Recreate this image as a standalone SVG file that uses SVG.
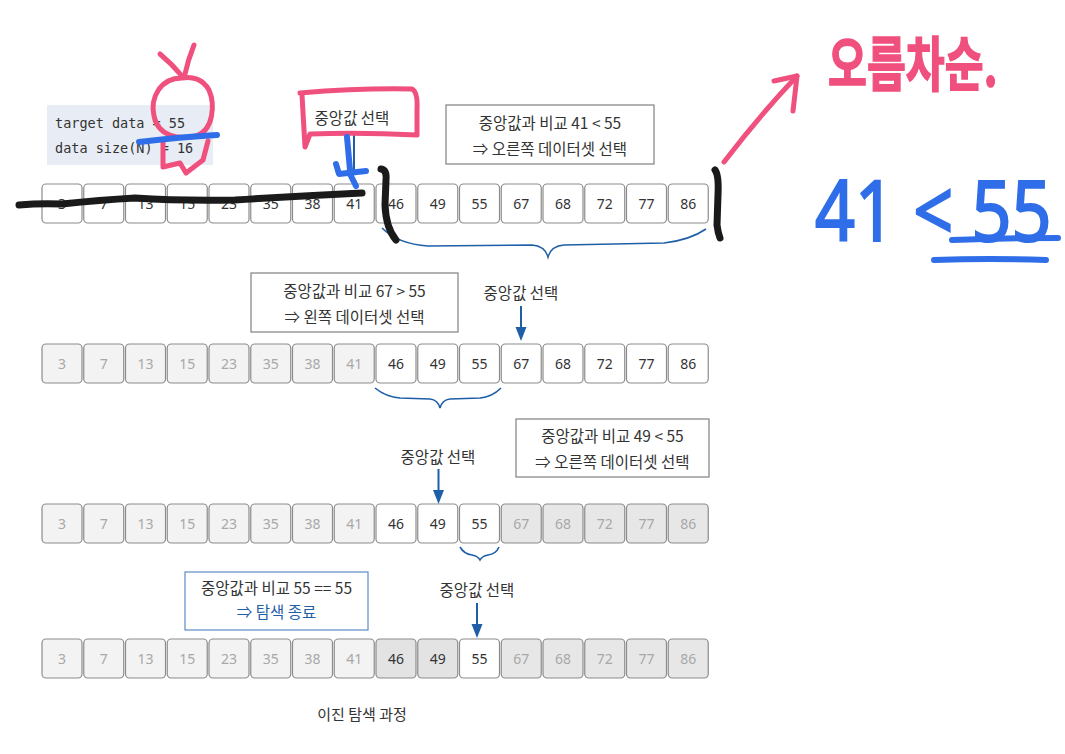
<svg xmlns="http://www.w3.org/2000/svg" width="1065" height="754" viewBox="0 0 1065 754">
<defs>
<style>
.cell rect{stroke:#8c8c8c;stroke-width:1.2}
.cell text{font-family:"Noto Sans","Noto Sans CJK KR",sans-serif;font-size:14px;text-anchor:middle}
.on rect{fill:#ffffff}.on text{fill:#333333}
.off rect{fill:#f3f3f3}.off text{fill:#a8a8a8}
.off2 rect{fill:#e7e7e7}.off2 text{fill:#a8a8a8}
.dim rect{fill:#e3e3e3}.dim text{fill:#333333}
.lbl{font-family:"Noto Sans CJK KR","Noto Sans",sans-serif;font-size:15.5px;fill:#333333;text-anchor:middle}
.note rect{fill:#ffffff;stroke:#808080;stroke-width:1.2}
.note text{font-family:"Noto Sans CJK KR","Noto Sans",sans-serif;font-size:15.5px;fill:#333333;text-anchor:middle}
.brace{fill:none;stroke:#1f5fa8;stroke-width:1.6}
.arr{stroke:#1f5fa8;stroke-width:2;fill:none}
.head{fill:#1f5fa8}
.pink{fill:none;stroke:#f0507e;stroke-width:5;stroke-linecap:round;stroke-linejoin:round}
.hblue{fill:none;stroke:#2f6ee8;stroke-width:6;stroke-linecap:round;stroke-linejoin:round}
.hblack{fill:none;stroke:#1a1a1a;stroke-width:7;stroke-linecap:round;stroke-linejoin:round}
</style>
</defs>
<rect width="1065" height="754" fill="#ffffff"/>

<g id="info">
<rect x="47" y="105" width="166" height="60" fill="#e8edf5"/>
<text x="55" y="128" font-family="DejaVu Sans Mono,monospace" font-size="13.5" fill="#333">target data = 55</text>
<text x="55" y="153" font-family="DejaVu Sans Mono,monospace" font-size="13.5" fill="#333">data size(N) = 16</text>
</g>

<!-- Row 1 -->
<g id="row1">
<g id="r1-0" class="cell on"><rect x="42" y="184" width="40" height="39" rx="4"/><text x="62" y="208.5">3</text></g>
<g id="r1-1" class="cell on"><rect x="83.75" y="184" width="40" height="39" rx="4"/><text x="103.75" y="208.5">7</text></g>
<g id="r1-2" class="cell on"><rect x="125.5" y="184" width="40" height="39" rx="4"/><text x="145.5" y="208.5">13</text></g>
<g id="r1-3" class="cell on"><rect x="167.25" y="184" width="40" height="39" rx="4"/><text x="187.25" y="208.5">15</text></g>
<g id="r1-4" class="cell on"><rect x="209" y="184" width="40" height="39" rx="4"/><text x="229" y="208.5">23</text></g>
<g id="r1-5" class="cell on"><rect x="250.75" y="184" width="40" height="39" rx="4"/><text x="270.75" y="208.5">35</text></g>
<g id="r1-6" class="cell on"><rect x="292.5" y="184" width="40" height="39" rx="4"/><text x="312.5" y="208.5">38</text></g>
<g id="r1-7" class="cell on"><rect x="334.25" y="184" width="40" height="39" rx="4"/><text x="354.25" y="208.5">41</text></g>
<g id="r1-8" class="cell on"><rect x="376" y="184" width="40" height="39" rx="4"/><text x="396" y="208.5">46</text></g>
<g id="r1-9" class="cell on"><rect x="417.75" y="184" width="40" height="39" rx="4"/><text x="437.75" y="208.5">49</text></g>
<g id="r1-10" class="cell on"><rect x="459.5" y="184" width="40" height="39" rx="4"/><text x="479.5" y="208.5">55</text></g>
<g id="r1-11" class="cell on"><rect x="501.25" y="184" width="40" height="39" rx="4"/><text x="521.25" y="208.5">67</text></g>
<g id="r1-12" class="cell on"><rect x="543" y="184" width="40" height="39" rx="4"/><text x="563" y="208.5">68</text></g>
<g id="r1-13" class="cell on"><rect x="584.75" y="184" width="40" height="39" rx="4"/><text x="604.75" y="208.5">72</text></g>
<g id="r1-14" class="cell on"><rect x="626.5" y="184" width="40" height="39" rx="4"/><text x="646.5" y="208.5">77</text></g>
<g id="r1-15" class="cell on"><rect x="668.25" y="184" width="40" height="39" rx="4"/><text x="688.25" y="208.5">86</text></g>
</g>

<!-- Row 2 -->
<g id="row2">
<g id="r2-0" class="cell off"><rect x="42" y="344" width="40" height="39" rx="4"/><text x="62" y="368.5">3</text></g>
<g id="r2-1" class="cell off"><rect x="83.75" y="344" width="40" height="39" rx="4"/><text x="103.75" y="368.5">7</text></g>
<g id="r2-2" class="cell off"><rect x="125.5" y="344" width="40" height="39" rx="4"/><text x="145.5" y="368.5">13</text></g>
<g id="r2-3" class="cell off"><rect x="167.25" y="344" width="40" height="39" rx="4"/><text x="187.25" y="368.5">15</text></g>
<g id="r2-4" class="cell off"><rect x="209" y="344" width="40" height="39" rx="4"/><text x="229" y="368.5">23</text></g>
<g id="r2-5" class="cell off"><rect x="250.75" y="344" width="40" height="39" rx="4"/><text x="270.75" y="368.5">35</text></g>
<g id="r2-6" class="cell off"><rect x="292.5" y="344" width="40" height="39" rx="4"/><text x="312.5" y="368.5">38</text></g>
<g id="r2-7" class="cell off"><rect x="334.25" y="344" width="40" height="39" rx="4"/><text x="354.25" y="368.5">41</text></g>
<g id="r2-8" class="cell on"><rect x="376" y="344" width="40" height="39" rx="4"/><text x="396" y="368.5">46</text></g>
<g id="r2-9" class="cell on"><rect x="417.75" y="344" width="40" height="39" rx="4"/><text x="437.75" y="368.5">49</text></g>
<g id="r2-10" class="cell on"><rect x="459.5" y="344" width="40" height="39" rx="4"/><text x="479.5" y="368.5">55</text></g>
<g id="r2-11" class="cell on"><rect x="501.25" y="344" width="40" height="39" rx="4"/><text x="521.25" y="368.5">67</text></g>
<g id="r2-12" class="cell on"><rect x="543" y="344" width="40" height="39" rx="4"/><text x="563" y="368.5">68</text></g>
<g id="r2-13" class="cell on"><rect x="584.75" y="344" width="40" height="39" rx="4"/><text x="604.75" y="368.5">72</text></g>
<g id="r2-14" class="cell on"><rect x="626.5" y="344" width="40" height="39" rx="4"/><text x="646.5" y="368.5">77</text></g>
<g id="r2-15" class="cell on"><rect x="668.25" y="344" width="40" height="39" rx="4"/><text x="688.25" y="368.5">86</text></g>
</g>

<!-- Row 3 -->
<g id="row3">
<g id="r3-0" class="cell off"><rect x="42" y="504" width="40" height="39" rx="4"/><text x="62" y="528.5">3</text></g>
<g id="r3-1" class="cell off"><rect x="83.75" y="504" width="40" height="39" rx="4"/><text x="103.75" y="528.5">7</text></g>
<g id="r3-2" class="cell off"><rect x="125.5" y="504" width="40" height="39" rx="4"/><text x="145.5" y="528.5">13</text></g>
<g id="r3-3" class="cell off"><rect x="167.25" y="504" width="40" height="39" rx="4"/><text x="187.25" y="528.5">15</text></g>
<g id="r3-4" class="cell off"><rect x="209" y="504" width="40" height="39" rx="4"/><text x="229" y="528.5">23</text></g>
<g id="r3-5" class="cell off"><rect x="250.75" y="504" width="40" height="39" rx="4"/><text x="270.75" y="528.5">35</text></g>
<g id="r3-6" class="cell off"><rect x="292.5" y="504" width="40" height="39" rx="4"/><text x="312.5" y="528.5">38</text></g>
<g id="r3-7" class="cell off"><rect x="334.25" y="504" width="40" height="39" rx="4"/><text x="354.25" y="528.5">41</text></g>
<g id="r3-8" class="cell on"><rect x="376" y="504" width="40" height="39" rx="4"/><text x="396" y="528.5">46</text></g>
<g id="r3-9" class="cell on"><rect x="417.75" y="504" width="40" height="39" rx="4"/><text x="437.75" y="528.5">49</text></g>
<g id="r3-10" class="cell on"><rect x="459.5" y="504" width="40" height="39" rx="4"/><text x="479.5" y="528.5">55</text></g>
<g id="r3-11" class="cell off2"><rect x="501.25" y="504" width="40" height="39" rx="4"/><text x="521.25" y="528.5">67</text></g>
<g id="r3-12" class="cell off2"><rect x="543" y="504" width="40" height="39" rx="4"/><text x="563" y="528.5">68</text></g>
<g id="r3-13" class="cell off2"><rect x="584.75" y="504" width="40" height="39" rx="4"/><text x="604.75" y="528.5">72</text></g>
<g id="r3-14" class="cell off2"><rect x="626.5" y="504" width="40" height="39" rx="4"/><text x="646.5" y="528.5">77</text></g>
<g id="r3-15" class="cell off2"><rect x="668.25" y="504" width="40" height="39" rx="4"/><text x="688.25" y="528.5">86</text></g>
</g>

<!-- Row 4 -->
<g id="row4">
<g id="r4-0" class="cell off"><rect x="42" y="639" width="40" height="39" rx="4"/><text x="62" y="663.5">3</text></g>
<g id="r4-1" class="cell off"><rect x="83.75" y="639" width="40" height="39" rx="4"/><text x="103.75" y="663.5">7</text></g>
<g id="r4-2" class="cell off"><rect x="125.5" y="639" width="40" height="39" rx="4"/><text x="145.5" y="663.5">13</text></g>
<g id="r4-3" class="cell off"><rect x="167.25" y="639" width="40" height="39" rx="4"/><text x="187.25" y="663.5">15</text></g>
<g id="r4-4" class="cell off"><rect x="209" y="639" width="40" height="39" rx="4"/><text x="229" y="663.5">23</text></g>
<g id="r4-5" class="cell off"><rect x="250.75" y="639" width="40" height="39" rx="4"/><text x="270.75" y="663.5">35</text></g>
<g id="r4-6" class="cell off"><rect x="292.5" y="639" width="40" height="39" rx="4"/><text x="312.5" y="663.5">38</text></g>
<g id="r4-7" class="cell off"><rect x="334.25" y="639" width="40" height="39" rx="4"/><text x="354.25" y="663.5">41</text></g>
<g id="r4-8" class="cell dim"><rect x="376" y="639" width="40" height="39" rx="4"/><text x="396" y="663.5">46</text></g>
<g id="r4-9" class="cell dim"><rect x="417.75" y="639" width="40" height="39" rx="4"/><text x="437.75" y="663.5">49</text></g>
<g id="r4-10" class="cell on"><rect x="459.5" y="639" width="40" height="39" rx="4"/><text x="479.5" y="663.5">55</text></g>
<g id="r4-11" class="cell off2"><rect x="501.25" y="639" width="40" height="39" rx="4"/><text x="521.25" y="663.5">67</text></g>
<g id="r4-12" class="cell off2"><rect x="543" y="639" width="40" height="39" rx="4"/><text x="563" y="663.5">68</text></g>
<g id="r4-13" class="cell off2"><rect x="584.75" y="639" width="40" height="39" rx="4"/><text x="604.75" y="663.5">72</text></g>
<g id="r4-14" class="cell off2"><rect x="626.5" y="639" width="40" height="39" rx="4"/><text x="646.5" y="663.5">77</text></g>
<g id="r4-15" class="cell off2"><rect x="668.25" y="639" width="40" height="39" rx="4"/><text x="688.25" y="663.5">86</text></g>
</g>

<!-- Notes and labels -->
<g id="note1" class="note">
<rect x="446" y="105" width="208" height="59"/>
<text x="550" y="129">중앙값과 비교 41 &lt; 55</text>
<text x="550" y="155">⇒ 오른쪽 데이터셋 선택</text>
</g>
<g id="note2" class="note">
<rect x="251" y="273" width="207" height="59"/>
<text x="354.5" y="297">중앙값과 비교 67 &gt; 55</text>
<text x="354.5" y="323">⇒ 왼쪽 데이터셋 선택</text>
</g>
<g id="note3" class="note">
<rect x="516" y="419" width="193" height="58"/>
<text x="612.5" y="442">중앙값과 비교 49 &lt; 55</text>
<text x="612.5" y="468">⇒ 오른쪽 데이터셋 선택</text>
</g>
<g id="note4" class="note">
<rect x="185" y="572" width="183" height="58" style="stroke:#5b8cc4"/>
<text x="276.5" y="594">중앙값과 비교 55 == 55</text>
<text x="276.5" y="618" style="fill:#1f5fa8">⇒ 탐색 종료</text>
</g>
<g id="label1"><text class="lbl" x="352" y="124">중앙값 선택</text></g>
<g id="label2"><text class="lbl" x="521" y="299">중앙값 선택</text></g>
<g id="label3"><text class="lbl" x="438" y="463">중앙값 선택</text></g>
<g id="label4"><text class="lbl" x="477" y="596">중앙값 선택</text></g>
<g id="caption"><text class="lbl" x="362" y="720" style="font-size:15px">이진 탐색 과정</text></g>

<!-- Connectors -->
<g id="connectors">
<line class="arr" x1="354" y1="133" x2="354" y2="172"/>
<line class="arr" x1="521" y1="306" x2="521" y2="330"/>
<polygon class="head" points="515.5,327 526.5,327 521,341"/>
<line class="arr" x1="438.5" y1="469" x2="438.5" y2="493"/>
<polygon class="head" points="433,490 444,490 438.5,504"/>
<line class="arr" x1="477" y1="603" x2="477" y2="627"/>
<polygon class="head" points="471.5,624 482.5,624 477,638"/>
<path class="brace" d="M382,228 Q398,244 428,246 L532,245 Q545,246 548,257 Q551,246 564,245 L664,243 Q690,240 706,229"/>
<path class="brace" d="M375,388 Q386,397 400,398 L430,399 Q438,400 440,408 Q442,400 450,399 L480,398 Q492,397 501,388"/>
<path class="brace" d="M460,547 Q464,554 472,555 Q478,556 480,560 Q482,556 488,555 Q496,554 499,547"/>
</g>

<!-- Handwritten annotations -->
<g id="handwriting">
<path class="pink" d="M160,54 Q172,64 182,76"/>
<path class="pink" d="M194,45 Q188,60 185,74"/>
<path class="pink" d="M182,78 C160,78 150,98 154,116 C158,136 178,140 196,136 C214,130 215,104 209,90 C203,79 192,76 182,78"/>
<path class="pink" d="M163,141 L163,167 L180,163 L186,173 L203,160 L208,141"/>
<path class="hblue" d="M139,142 Q180,137 217,135"/>
<path class="pink" d="M300,93 Q360,88 412,89 Q418,92 417,110 L417,135 Q360,132 310,134 L305,147 L302,95"/>
<path class="hblue" d="M347,137 L350,170"/>
<path class="hblue" d="M336,164 L339,174 L366,171"/>
<path class="hblue" d="M349,172 L356,186"/>
<path class="hblack" d="M19,205 Q40,203 62,204 Q100,200 135,198 Q180,201 235,200 Q300,196 362,193"/>
<path class="hblack" d="M381,169 Q387,170 386,180 L385,205 Q386,228 396,240"/>
<path class="hblack" d="M715,170 Q719,175 718,195 L717,225 Q718,233 720,238"/>
<path class="pink" d="M724,162 Q760,115 797,76"/>
<path class="pink" d="M774,81 L797,76 L793,111"/>
<text transform="translate(828,86) scale(0.92,1.28)" x="0" y="0" font-family="Noto Sans CJK KR,sans-serif" font-size="46" font-weight="700" fill="#f0507e" stroke="#f0507e" stroke-width="1.2">오름차순.</text>
<text transform="translate(815,241) scale(1,1.2)" x="0" y="0" font-family="Noto Sans,sans-serif" font-size="70" font-weight="400" fill="#2f6ee8" stroke="#2f6ee8" stroke-width="1.8">41 &lt; 55</text>
<path class="hblue" d="M952,240 Q1005,238 1058,238"/>
<path class="hblue" d="M934,260 Q990,258 1046,260"/>
</g>
</svg>
